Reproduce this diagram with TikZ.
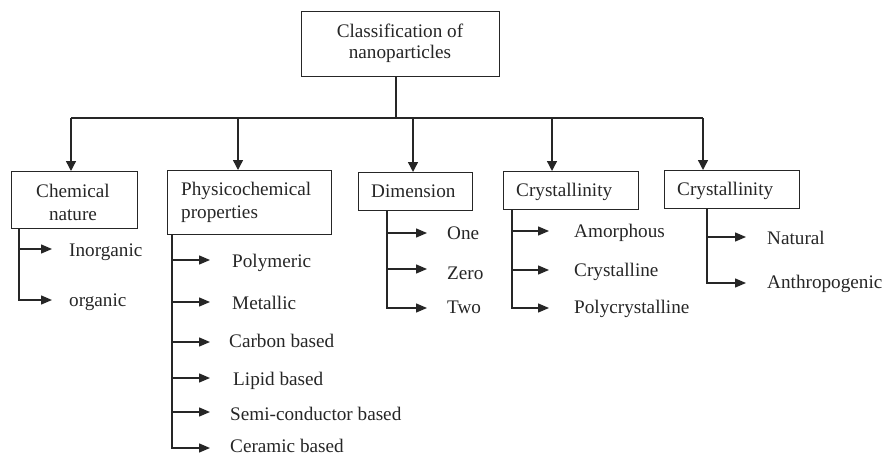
\documentclass[tikz,border=0pt]{standalone}
\usepackage{fontspec}
\setmainfont{Liberation Serif}
\usetikzlibrary{arrows.meta}
\begin{document}
\begin{tikzpicture}[x=1pt,y=-1pt,
  ln/.style={draw=black!85, line width=1.4pt},
  arr/.style={ln, -{Triangle[length=10pt,width=10pt]}},
  sarr/.style={ln, -{Triangle[length=11pt,width=9pt]}},
  box/.style={draw=black!85, line width=1.4pt, inner sep=0pt, anchor=north west},
  txt/.style={inner sep=0pt, font=\fontsize{19.2}{22}\selectfont, text=black!85},
  lbl/.style={txt, anchor=base west},
  ctr/.style={txt, anchor=base}
]
\useasboundingbox (0,0) rectangle (882,455);

% boxes
\node[box, minimum width=198, minimum height=65] (root) at (301,11) {};
\node[box, minimum width=126, minimum height=57] (chem) at (11,171) {};
\node[box, minimum width=164, minimum height=64] (phys) at (167,170) {};
\node[box, minimum width=114, minimum height=38] (dim) at (358,172) {};
\node[box, minimum width=135, minimum height=38] (crysA) at (503,171) {};
\node[box, minimum width=135, minimum height=38] (crysB) at (664,170) {};

% box captions
\node[ctr] (rootA) at (400,37) {Classification of};
\node[ctr] (rootB) at (400,58) {nanoparticles};
\node[ctr] (chemA) at (73,197) {Chemical};
\node[ctr] (chemB) at (73,220) {nature};
\node[lbl] (physA) at (181,195) {Physicochemical};
\node[lbl] (physB) at (181,218) {properties};
\node[lbl] (dimA) at (371,197) {Dimension};
\node[lbl] (crysAt) at (516,196) {Crystallinity};
\node[lbl] (crysBt) at (677,195) {Crystallinity};

% main tree
\coordinate (j) at (396,118);
\coordinate (b1) at (71,118);
\coordinate (b2) at (238,118);
\coordinate (b3) at (413,118);
\coordinate (b4) at (552,118);
\coordinate (b5) at (703,118);
\draw[ln] (root.south -| j) -- (j);
\draw[ln] (b1) -- (b5);
\draw[arr] (b1) -- (b1 |- chem.north);
\draw[arr] (b2) -- (b2 |- phys.north);
\draw[arr] (b3) -- (b3 |- dim.north);
\draw[arr] (b4) -- (b4 |- crysA.north);
\draw[arr] (b5) -- (b5 |- crysB.north);

% chemical nature
\node[lbl] (inorg) at (69,256) {Inorganic};
\node[lbl] (org) at (69,306) {organic};
\coordinate (tInorg) at (52,249);
\coordinate (tOrg) at (52,300);
\draw[sarr] ([xshift=8]chem.south west) |- (tInorg);
\draw[sarr] ([xshift=8]chem.south west) |- (tOrg);

% physicochemical properties
\node[lbl] (poly) at (232,267) {Polymeric};
\node[lbl] (metal) at (232,309) {Metallic};
\node[lbl] (carbon) at (229,347) {Carbon based};
\node[lbl] (lipid) at (233,385) {Lipid based};
\node[lbl] (semi) at (230,420) {Semi-conductor based};
\node[lbl] (ceram) at (230,452) {Ceramic based};
\coordinate (tPoly) at (210,260);
\coordinate (tMetal) at (210,302);
\coordinate (tCarbon) at (210,342);
\coordinate (tLipid) at (210,378);
\coordinate (tSemi) at (210,412);
\coordinate (tCeram) at (210,448);
\foreach \t in {tPoly,tMetal,tCarbon,tLipid,tSemi,tCeram}
  \draw[sarr] ([xshift=5]phys.south west) |- (\t);

% dimension
\node[lbl] (one) at (447,239) {One};
\node[lbl] (zero) at (447,279) {Zero};
\node[lbl] (two) at (447,313) {Two};
\coordinate (tOne) at (427,233);
\coordinate (tZero) at (427,269);
\coordinate (tTwo) at (427,308);
\foreach \t in {tOne,tZero,tTwo}
  \draw[sarr] ([xshift=29]dim.south west) |- (\t);

% crystallinity
\node[lbl] (amor) at (574,237) {Amorphous};
\node[lbl] (cryst) at (574,276) {Crystalline};
\node[lbl] (polyc) at (574,313) {Polycrystalline};
\coordinate (tAmor) at (549,231);
\coordinate (tCryst) at (549,270);
\coordinate (tPolyc) at (549,308);
\foreach \t in {tAmor,tCryst,tPolyc}
  \draw[sarr] ([xshift=9]crysA.south west) |- (\t);

% origin
\node[lbl] (nat) at (767,244) {Natural};
\node[lbl] (anthro) at (767,288) {Anthropogenic};
\coordinate (tNat) at (746,237);
\coordinate (tAnthro) at (746,283);
\foreach \t in {tNat,tAnthro}
  \draw[sarr] ([xshift=43]crysB.south west) |- (\t);
\end{tikzpicture}
\end{document}
